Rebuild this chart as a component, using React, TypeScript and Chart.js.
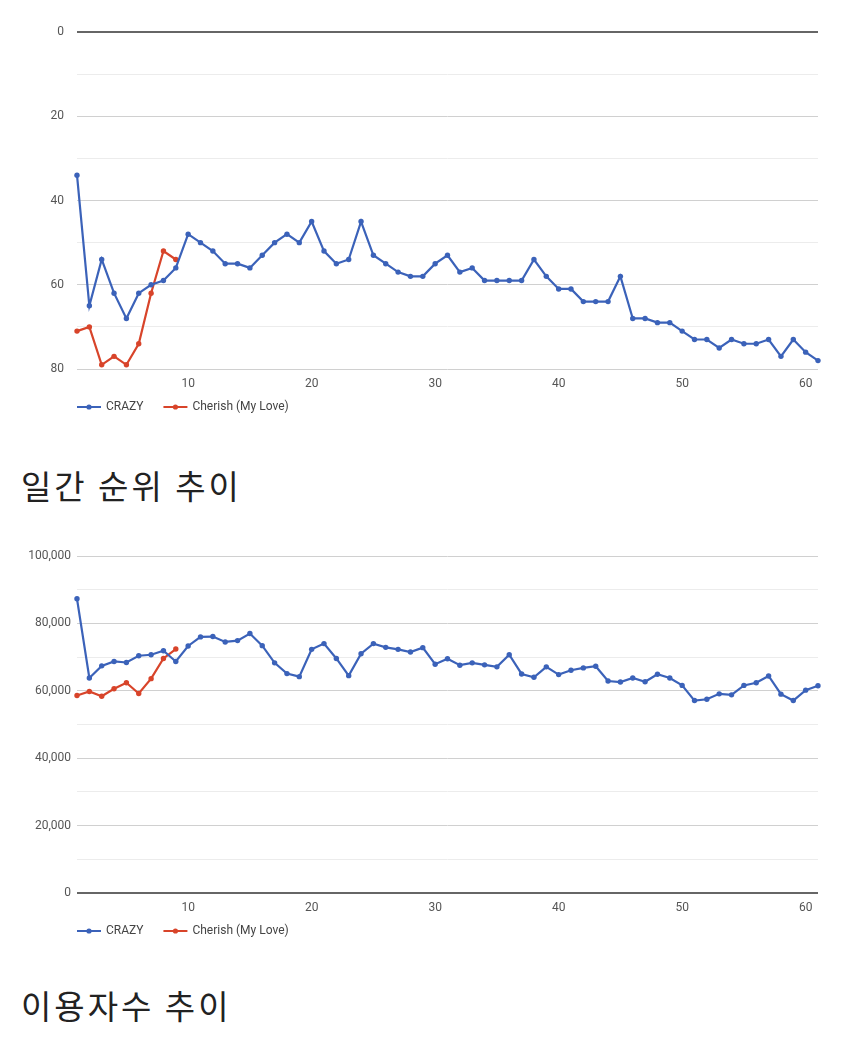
import React, { useEffect, useRef } from "react";
import { Chart, registerables } from "chart.js";

Chart.register(...registerables);

// ---- Data ----
const X_TICKS = [10, 20, 30, 40, 50, 60];

const RANK_CRAZY = [
  34, 65, 54, 62, 68, 62, 60, 59, 56, 48,
  50, 52, 55, 55, 56, 53, 50, 48, 50, 45,
  52, 55, 54, 45, 53, 55, 57, 58, 58, 55,
  53, 57, 56, 59, 59, 59, 59, 54, 58, 61,
  61, 64, 64, 64, 58, 68, 68, 69, 69, 71,
  73, 73, 75, 73, 74, 74, 73, 77, 73, 76, 78,
];
const RANK_CHERISH = [71, 70, 79, 77, 79, 74, 62, 52, 54];

const USERS_CRAZY = [
  87300, 63800, 67400, 68700, 68400, 70400, 70700, 71900, 68700, 73300,
  76000, 76100, 74500, 74900, 77000, 73400, 68300, 65100, 64200, 72300,
  74000, 69600, 64500, 71000, 74000, 72900, 72300, 71500, 72800, 67900,
  69500, 67600, 68300, 67700, 67100, 70700, 65000, 64000, 67100, 64800,
  66100, 66800, 67300, 62900, 62600, 63800, 62700, 64900, 63800, 61600,
  57100, 57500, 59100, 58800, 61600, 62400, 64400, 59000, 57100, 60200, 61500,
];
const USERS_CHERISH = [58600, 59800, 58400, 60600, 62400, 59200, 63600, 69600, 72400];

const SERIES_NAMES = ["CRAZY", "Cherish (My Love)"];
const SERIES_COLORS = ["#3b62b9", "#d8442a"];

const TITLE_1 = "일간 순위 추이";
const TITLE_2 = "이용자수 추이";

const toPoints = (arr: number[]) => arr.map((v, i) => ({ x: i + 1, y: v }));

const legendPlugin = {
  id: "customLegend",
  afterDraw(chart: any) {
    const ctx = chart.ctx;
    const y = chart.chartArea.bottom + 38;
    let x = chart.chartArea.left;
    ctx.save();
    ctx.font = "12px Roboto";
    ctx.textBaseline = "middle";
    ctx.textAlign = "left";
    chart.data.datasets.forEach((ds: any) => {
      ctx.strokeStyle = ds.borderColor;
      ctx.lineWidth = 2;
      ctx.beginPath();
      ctx.moveTo(x, y);
      ctx.lineTo(x + 24, y);
      ctx.stroke();
      ctx.fillStyle = ds.borderColor;
      ctx.beginPath();
      ctx.arc(x + 12, y, 2.6, 0, Math.PI * 2);
      ctx.fill();
      ctx.fillStyle = "#444";
      ctx.fillText(ds.label, x + 29, y);
      x += 29 + ctx.measureText(ds.label).width + 20;
    });
    ctx.restore();
  },
};

function makeConfig(
  a: number[],
  b: number[],
  yOpts: { min: number; max: number; step: number; major: number; reverse: boolean; pad: number; fmt: (v: number) => string }
): any {
  return {
    type: "line",
    data: {
      datasets: [a, b].map((arr, i) => ({
        label: SERIES_NAMES[i],
        data: toPoints(arr),
        borderColor: SERIES_COLORS[i],
        backgroundColor: SERIES_COLORS[i],
        borderWidth: 2.2,
        pointRadius: 2.7,
        pointBorderWidth: 0,
        tension: 0,
        clip: false,
      })),
    },
    options: {
      animation: false,
      responsive: false,
      maintainAspectRatio: false,
      layout: { padding: { top: 32, right: 32, bottom: 0, left: 0 } },
      plugins: { legend: { display: false }, tooltip: { enabled: false } },
      scales: {
        x: {
          type: "linear",
          min: 1,
          max: 61,
          afterBuildTicks: (scale: any) => {
            scale.ticks = X_TICKS.map((v) => ({ value: v }));
          },
          afterFit: (scale: any) => {
            scale.height = 61;
          },
          grid: { display: false, drawTicks: false },
          border: { display: false },
          ticks: {
            padding: 8,
            color: "#555",
            font: { family: "Roboto", size: 12 },
            maxRotation: 0,
            autoSkip: false,
          },
        },
        y: {
          min: yOpts.min,
          max: yOpts.max,
          reverse: yOpts.reverse,
          afterFit: (scale: any) => {
            scale.width = 77;
          },
          border: { display: false },
          grid: {
            drawTicks: false,
            color: (c: any) =>
              c.tick.value === 0 ? "#666" : c.tick.value % yOpts.major === 0 ? "#d0d0d0" : "#ececec",
            lineWidth: (c: any) => (c.tick.value === 0 ? 2 : 1),
          },
          ticks: {
            stepSize: yOpts.step,
            autoSkip: false,
            padding: yOpts.pad,
            color: "#555",
            font: { family: "Roboto", size: 12 },
            callback: (v: number) => (v % yOpts.major === 0 ? yOpts.fmt(v) : ""),
          },
        },
      },
    },
    plugins: [legendPlugin],
  };
}

function LineChart({ config, top }: { config: any; top: number }) {
  const ref = useRef<HTMLCanvasElement | null>(null);
  useEffect(() => {
    if (!ref.current) return;
    const chart = new Chart(ref.current, config);
    return () => chart.destroy();
  }, [config]);
  return (
    <canvas
      ref={ref}
      width={850}
      height={430}
      style={{ position: "absolute", left: 0, top, width: 850, height: 430 }}
    />
  );
}

const CONFIG_1 = makeConfig(RANK_CRAZY, RANK_CHERISH, {
  min: 0,
  max: 80,
  step: 10,
  major: 20,
  reverse: true,
  pad: 13,
  fmt: (v) => String(v),
});
const CONFIG_2 = makeConfig(USERS_CRAZY, USERS_CHERISH, {
  min: 0,
  max: 100000,
  step: 10000,
  major: 20000,
  reverse: false,
  pad: 6,
  fmt: (v) => v.toLocaleString("en-US"),
});

const titleStyle = (top: number): React.CSSProperties => ({
  position: "absolute",
  left: 21,
  top,
  height: 40,
  lineHeight: "40px",
  fontFamily: '"Noto Sans CJK KR", "Noto Sans", sans-serif',
  fontSize: 33,
  letterSpacing: 3,
  color: "#222",
  whiteSpace: "nowrap",
});

export default function App() {
  return (
    <div style={{ position: "absolute", left: 0, top: 0, width: 850, height: 1046, background: "#fff", overflow: "hidden" }}>
      <LineChart config={CONFIG_1} top={0} />
      <div style={titleStyle(465)}>{TITLE_1}</div>
      <LineChart config={CONFIG_2} top={524} />
      <div style={titleStyle(985)}>{TITLE_2}</div>
    </div>
  );
}
